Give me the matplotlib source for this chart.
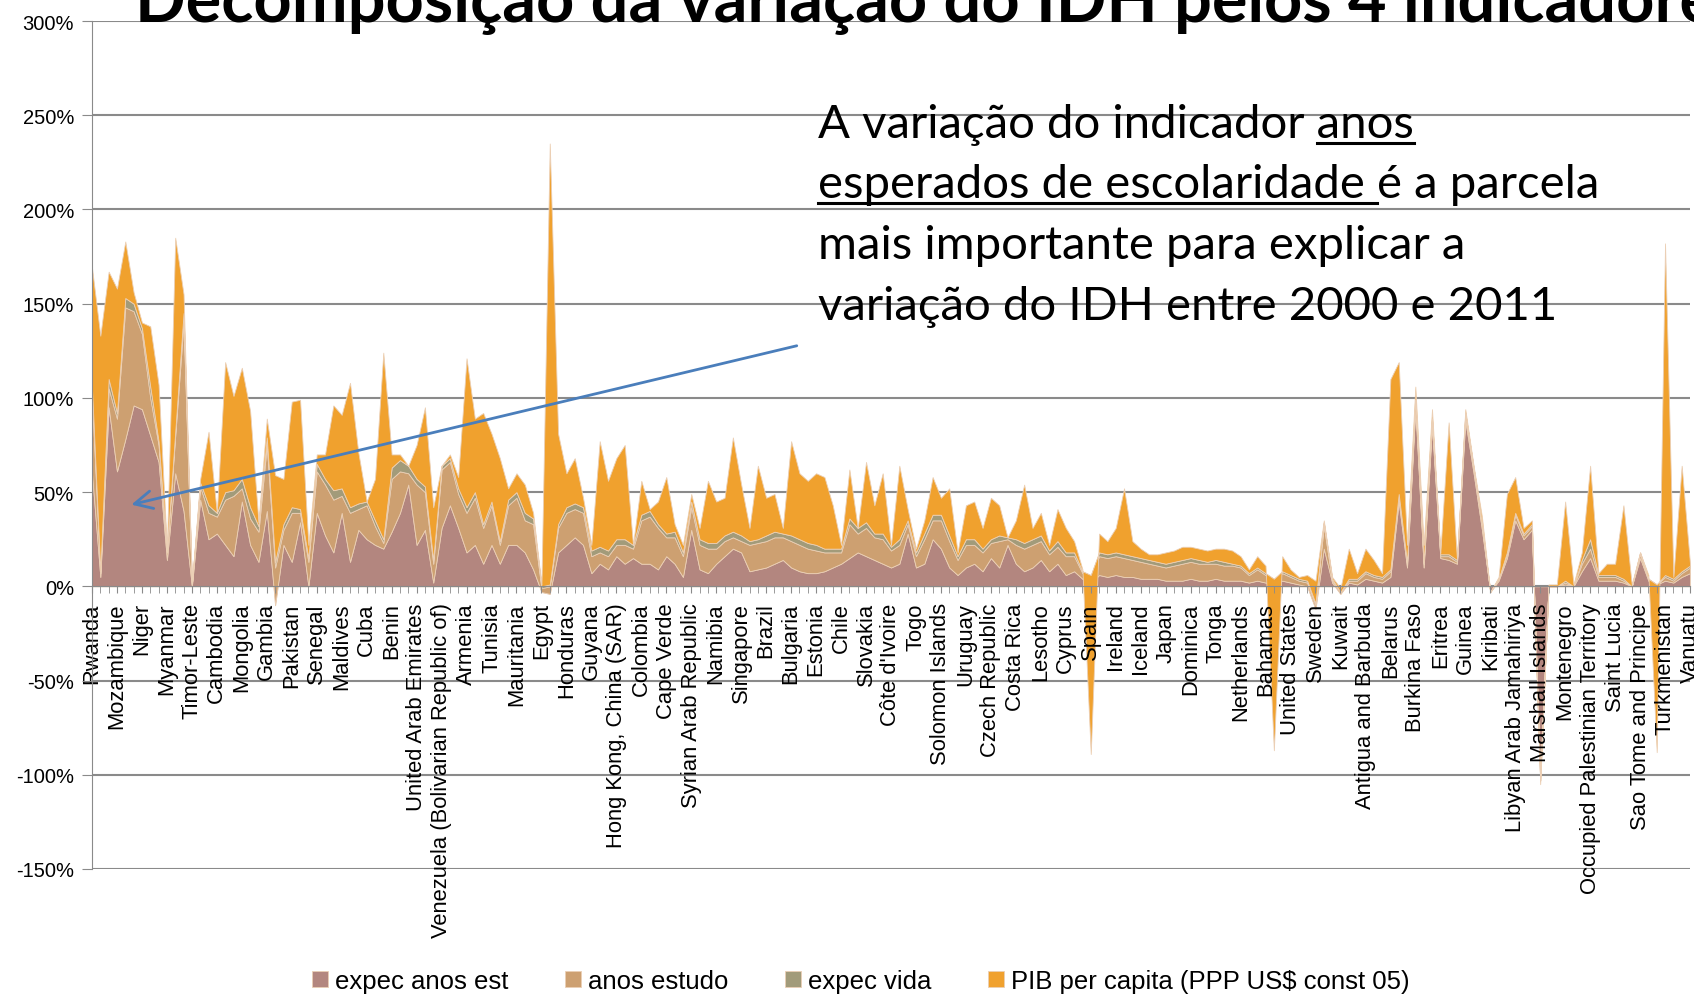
import numpy as np
import matplotlib
matplotlib.use('Agg')
import matplotlib.pyplot as plt
from matplotlib.ticker import FuncFormatter

# paises rotulados (um a cada tres categorias)
rotulos = ['Rwanda', 'Mozambique', 'Niger', 'Myanmar', 'Timor-Leste', 'Cambodia', 'Mongolia', 'Gambia',
           'Pakistan', 'Senegal', 'Maldives', 'Cuba', 'Benin', 'United Arab Emirates',
           'Venezuela (Bolivarian Republic of)', 'Armenia', 'Tunisia', 'Mauritania', 'Egypt', 'Honduras',
           'Guyana', 'Hong Kong, China (SAR)', 'Colombia', 'Cape Verde', 'Syrian Arab Republic', 'Namibia',
           'Singapore', 'Brazil', 'Bulgaria', 'Estonia', 'Chile', 'Slovakia', "Côte d'Ivoire", 'Togo',
           'Solomon Islands', 'Uruguay', 'Czech Republic', 'Costa Rica', 'Lesotho', 'Cyprus', 'Spain',
           'Ireland', 'Iceland', 'Japan', 'Dominica', 'Tonga', 'Netherlands', 'Bahamas', 'United States',
           'Sweden', 'Kuwait', 'Antigua and Barbuda', 'Belarus', 'Burkina Faso', 'Eritrea', 'Guinea',
           'Kiribati', 'Libyan Arab Jamahiriya', 'Marshall Islands', 'Montenegro',
           'Occupied Palestinian Territory', 'Saint Lucia', 'Sao Tome and Principe', 'Turkmenistan', 'Vanuatu']

series = ['expec anos est', 'anos estudo', 'expec vida', 'PIB per capita (PPP US$ const 05)']

# contribuicao de cada indicador para a variacao do IDH (%), 193 paises
expec_anos_est = [60, 5, 95, 61, 78, 96, 94, 80, 66, 14,
                  60, 40, 0, 46, 25, 28, 22, 16, 45, 22,
                  13, 40, -10, 22, 13, 34, 0, 39, 27, 18,
                  39, 13, 30, 25, 22, 20, 29, 39, 54, 22,
                  30, 2, 31, 43, 31, 18, 22, 12, 22, 12,
                  22, 22, 18, 9, -3, -4, 18, 22, 26, 22,
                  7, 12, 9, 16, 12, 15, 12, 12, 9, 16,
                  12, 5, 30, 9, 7, 12, 16, 20, 18, 8,
                  9, 10, 12, 14, 10, 8, 7, 7, 8, 10,
                  12, 15, 18, 16, 14, 12, 10, 12, 28, 10,
                  12, 25, 20, 10, 6, 10, 12, 8, 15, 10,
                  22, 12, 8, 10, 14, 8, 12, 6, 8, 4,
                  2, 6, 5, 6, 5, 5, 4, 4, 4, 3,
                  3, 3, 4, 3, 3, 4, 3, 3, 3, 2,
                  3, 2, 1, 3, 2, 1, 0, -12, 20, 2,
                  -4, 2, 1, 4, 3, 2, 5, 45, 10, 95,
                  10, 85, 15, 14, 12, 88, 60, 30, -3, 3,
                  15, 35, 25, 30, -100, 0, 0, 1, 0, 8,
                  15, 3, 3, 3, 2, 0, 15, 3, 1, 3,
                  2, 5, 7]

anos_estudo = [40, 2, 10, 28, 70, 50, 40, 20, 9, 4,
               20, 100, 1, 7, 14, 9, 24, 32, 7, 14,
               16, 35, 20, 8, 26, 5, 13, 22, 27, 28,
               9, 26, 11, 18, 10, 3, 28, 22, 6, 32,
               20, 10, 31, 23, 18, 21, 25, 19, 21, 10,
               21, 25, 17, 24, 2, 4, 13, 17, 15, 17,
               9, 6, 7, 6, 10, 5, 23, 25, 22, 10,
               14, 11, 12, 13, 13, 8, 8, 6, 6, 14,
               14, 14, 14, 12, 14, 14, 13, 12, 10, 8,
               6, 18, 10, 15, 12, 13, 9, 10, 5, 6,
               13, 10, 15, 14, 8, 12, 10, 10, 8, 14,
               3, 10, 12, 12, 10, 9, 9, 10, 8, 3,
               3, 10, 10, 10, 10, 9, 9, 8, 7, 7,
               8, 9, 9, 9, 9, 8, 8, 8, 7, 4,
               6, 4, 2, 4, 3, 2, 2, 2, 12, 1,
               1, 1, 2, 3, 2, 2, 3, 3, 2, 3,
               2, 3, 1, 2, 1, 3, 2, 2, 0, 1,
               2, 3, 2, 2, -3, 0, 0, 1, 0, 4,
               5, 2, 2, 2, 1, 0, 2, 1, 0, 2,
               1, 2, 3]

expec_vida = [5, 1, 5, 3, 5, 4, 3, 6, 2, 1,
              2, 5, 0, 2, 4, 2, 4, 3, 5, 6,
              3, 4, 3, 3, 3, 2, 2, 4, 3, 5,
              4, 3, 3, 2, 3, 2, 6, 6, 4, 3,
              3, 2, 2, 2, 3, 3, 3, 2, 2, 2,
              3, 3, 4, 3, 1, 1, 2, 3, 3, 3,
              3, 3, 3, 3, 3, 2, 3, 3, 2, 2,
              3, 2, 3, 3, 3, 3, 3, 3, 3, 2,
              2, 3, 3, 2, 3, 3, 3, 3, 2, 2,
              2, 3, 3, 3, 2, 3, 2, 3, 2, 2,
              3, 3, 3, 3, 2, 3, 3, 2, 2, 3,
              1, 3, 3, 3, 3, 2, 3, 2, 2, 1,
              1, 2, 2, 2, 2, 2, 2, 2, 2, 2,
              2, 2, 2, 2, 1, 2, 2, 1, 1, 1,
              1, 1, 1, 1, 1, 1, 1, 1, 2, 1,
              0, 1, 1, 1, 1, 1, 1, 1, 1, 1,
              1, 1, 1, 1, 1, 1, 1, 1, 0, 0,
              1, 1, 1, 1, 0, 0, 0, 1, 0, 2,
              5, 1, 1, 1, 1, 0, 1, 0, 0, 1,
              1, 1, 1]

pib = [64, 125, 57, 66, 30, 6, 3, 32, 30, 1,
       103, 10, 0, 2, 39, 0, 69, 50, 59, 51,
       2, 10, 46, 24, 56, 58, 7, 5, 13, 45,
       39, 66, 27, 0, 22, 99, 7, 3, 0, 18,
       42, 28, 0, 2, 6, 79, 39, 59, 36, 44,
       6, 10, 15, 3, 1, 234, 48, 18, 24, 5,
       3, 56, 37, 43, 50, 0, 18, 1, 12, 30,
       4, 4, 4, 6, 33, 22, 20, 50, 27, 7,
       39, 20, 20, 3, 50, 35, 33, 38, 38, 23,
       2, 26, 0, 32, 15, 32, 1, 39, 6, 2,
       7, 20, 9, 25, 2, 18, 20, 11, 22, 16,
       0, 10, 31, 6, 12, 3, 17, 13, 6, 1,
       -95, 10, 7, 13, 35, 8, 5, 3, 4, 6,
       6, 7, 6, 6, 6, 6, 7, 7, 5, 2,
       6, 4, -91, 8, 3, 1, 3, 12, 1, 1,
       2, 16, 3, 12, 8, 2, 101, 70, 9, 7,
       9, 5, 1, 70, 0, 2, 1, 4, 0, 1,
       31, 19, 3, 2, -2, 1, 1, 42, 1, 4,
       39, 1, 6, 6, 39, 1, 0, 2, -89, 176,
       1, 56, 1]

cores = ['#B3867F', '#CDA071', '#A29B7A', '#F0A12E']
x = np.arange(len(pib))

fig = plt.figure(figsize=(16.94, 9.95), dpi=100)
ax = fig.add_axes([92/1694, 1-870/995, 1598/1694, 848/995])

areas = ax.stackplot(x, expec_anos_est, anos_estudo, expec_vida, pib, colors=cores, labels=series,
                     edgecolor='#EBCFB5', linewidth=0.6, zorder=1)

# eixo das categorias passa pelo 0% (antes de configurar os ticks, pois set_position os reinicia)
ax.spines['bottom'].set_position(('data', 0))
ax.spines['bottom'].set_color('#8A8A8A')
ax.spines['left'].set_color('#8A8A8A')
ax.spines['top'].set_visible(False)
ax.spines['right'].set_visible(False)

ax.set_xlim(0, len(x) - 1)
ax.set_ylim(-150, 300)
ax.set_yticks(np.arange(-150, 301, 50))
ax.yaxis.set_major_formatter(FuncFormatter(lambda v, p: '%d%%' % v))
for v in ax.get_yticks():
    ax.axhline(v, color='#8A8A8A', lw=1.5, zorder=0.5)

ax.set_xticks(x[::3])
ax.set_xticklabels(rotulos, rotation=90, fontsize=15.8, family='Liberation Sans', va='top', ha='center')
ax.set_xticks(x, minor=True)
ax.tick_params(axis='x', which='both', direction='out', length=5, color='#8A8A8A', pad=6.5)
ax.tick_params(axis='y', direction='out', length=7, color='#8A8A8A', labelsize=14.5, pad=6)
for t in ax.get_yticklabels():
    t.set_family('Liberation Sans')

# seta apontando para a parcela de anos esperados de escolaridade
ax.annotate('', xy=(4.4, 43), xytext=(85, 128),
            arrowprops=dict(arrowstyle='->', color='#4A7EBB', lw=2, mutation_scale=32),
            annotation_clip=False)

# titulo (cortado no topo como no slide original)
fig.text(135/1694, 1-22/995, 'Decomposição da variação do IDH pelos 4 indicadores',
         fontsize=48, fontweight='bold', family='Lato', va='baseline', ha='left')

# texto explicativo com sublinhados
linhas = ['A variação do indicador anos',
          'esperados de escolaridade é a parcela',
          'mais importante para explicar a',
          'variação do IDH entre 2000 e 2011']
bases = [138, 198, 259, 320]
x0 = 818
fs = 34
for s, b in zip(linhas, bases):
    fig.text(x0/1694, 1-b/995, s, fontsize=fs, family='Lato', va='baseline', ha='left')

fig.canvas.draw()
r = fig.canvas.get_renderer()

def largura(s):
    t = fig.text(0, 0, s, fontsize=fs, family='Lato')
    w = t.get_window_extent(r).width
    t.remove()
    return w

w1 = largura(linhas[0])
wa = largura('anos')
w2 = largura('esperados de escolaridade é') - largura('é')
for xa, xb, b in [(x0 + w1 - wa, x0 + w1, bases[0]), (x0, x0 + w2, bases[1])]:
    fig.add_artist(plt.Line2D([xa/1694, xb/1694], [1-(b+6)/995]*2, color='black', lw=2.2))

fig.legend(handles=areas, labels=series, loc='center', bbox_to_anchor=(861/1694, 13/995), ncol=4,
           frameon=False, prop={'family': 'Liberation Sans', 'size': 18.5},
           handlelength=0.6, handleheight=0.6, handletextpad=0.3, columnspacing=2.2)

fig.savefig('out.png', dpi=100)
